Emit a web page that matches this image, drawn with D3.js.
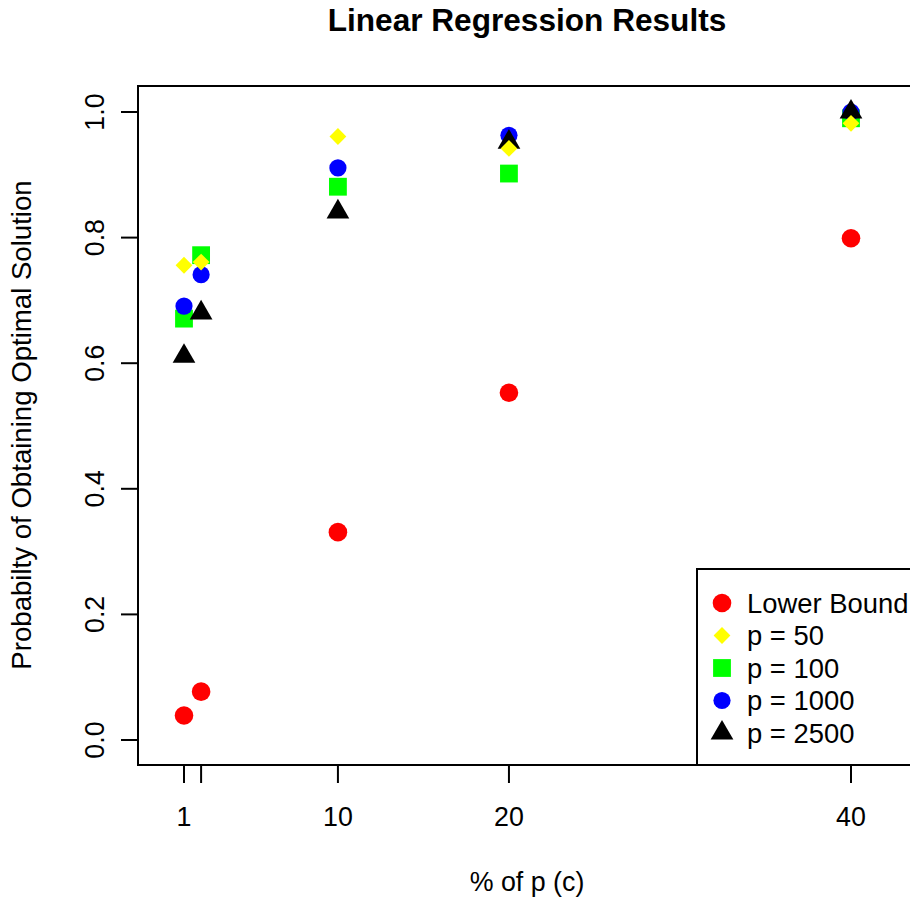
<!DOCTYPE html>
<html>
<head>
<meta charset="utf-8">
<script src="https://cdn.jsdelivr.net/npm/d3@7"></script>
<style>
body{margin:0;background:#fff;}
svg{display:block;font-family:"Liberation Sans",Arial,sans-serif;}
</style>
</head>
<body>
<div class="chart"></div>
<script>
// data
var xs=[1,2,10,20,40];
var xTicks=[1,2,10,20,40];
var xTickLabels=['1','','10','20','40'];
var yTicks=[0,0.2,0.4,0.6,0.8,1.0];
var lowerBound=[0.039,0.077,0.331,0.553,0.799];
var p50=[0.756,0.761,0.961,0.942,0.982];
var p100=[0.671,0.772,0.881,0.902,0.990];
var p1000=[0.691,0.741,0.911,0.963,1.0];
var p2500=[0.611,0.680,0.841,0.952,1.0];
var seriesNames=['Lower Bound','p = 50','p = 100','p = 1000','p = 2500'];

var width=910,height=898;
var box={left:138,top:86,right:916,bottom:765};
var fs='26.8px';

var svg=d3.select('div.chart')
		.append('svg')
		.attr('width',width)
		.attr('height',height);

var xScale=d3.scaleLinear().domain([1,40]).range([184,851]);
var yScale=d3.scaleLinear().domain([0,1]).range([740,112]);

// symbols, R style
function marker(sel,type){
	if(type=='circle'){
		sel.append('circle').attr('r',9.3).attr('fill','#ff0000');
	}else if(type=='circleb'){
		sel.append('circle').attr('r',8.6).attr('fill','#0000ff');
	}else if(type=='diamond'){
		sel.append('path').attr('d','M0,-8.4L8.4,0L0,8.4L-8.4,0Z').attr('fill','#ffff00');
	}else if(type=='square'){
		sel.append('rect').attr('x',-8.9).attr('y',-8.9).attr('width',17.8).attr('height',17.8).attr('fill','#00ff00');
	}else if(type=='triangle'){
		var r=13.1,xc=r*Math.sqrt(3)/2;
		sel.append('path').attr('d','M0,'+(-r)+'L'+xc+','+(r/2)+'L'+(-xc)+','+(r/2)+'Z').attr('fill','#000');
	}
}

var series=[
	{vals:lowerBound,type:'circle'},
	{vals:p100,type:'square'},
	{vals:p1000,type:'circleb'},
	{vals:p2500,type:'triangle'},
	{vals:p50,type:'diamond'}
];

var g=svg.append('g');
series.forEach(function(s){
	g.selectAll(null)
		.data(s.vals)
		.enter()
		.append('g')
		.attr('transform',function(d,i){return 'translate('+xScale(xs[i])+','+yScale(d)+')';})
		.each(function(){marker(d3.select(this),s.type);});
});

// plot box
svg.append('rect')
	.attr('x',box.left).attr('y',box.top)
	.attr('width',box.right-box.left).attr('height',box.bottom-box.top)
	.attr('fill','none').attr('stroke','#000').attr('stroke-width',2);

// x axis
var xAxis=svg.append('g');
xAxis.append('line')
	.attr('x1',xScale(xTicks[0])).attr('x2',xScale(xTicks[xTicks.length-1]))
	.attr('y1',box.bottom).attr('y2',box.bottom)
	.attr('stroke','#000').attr('stroke-width',2);
xAxis.selectAll('line.tick')
	.data(xTicks)
	.enter()
	.append('line')
	.attr('class','tick')
	.attr('x1',d=>xScale(d)).attr('x2',d=>xScale(d))
	.attr('y1',box.bottom).attr('y2',box.bottom+18)
	.attr('stroke','#000').attr('stroke-width',2);
xAxis.selectAll('text')
	.data(xTicks)
	.enter()
	.append('text')
	.attr('x',d=>xScale(d))
	.attr('y',826)
	.attr('text-anchor','middle')
	.attr('font-size',fs)
	.text((d,i)=>xTickLabels[i]);

// y axis
var yAxis=svg.append('g');
yAxis.append('line')
	.attr('x1',box.left).attr('x2',box.left)
	.attr('y1',yScale(0)).attr('y2',yScale(1))
	.attr('stroke','#000').attr('stroke-width',2);
yAxis.selectAll('line.tick')
	.data(yTicks)
	.enter()
	.append('line')
	.attr('class','tick')
	.attr('x1',box.left-17).attr('x2',box.left)
	.attr('y1',d=>yScale(d)).attr('y2',d=>yScale(d))
	.attr('stroke','#000').attr('stroke-width',2);
yAxis.selectAll('text')
	.data(yTicks)
	.enter()
	.append('text')
	.attr('transform',d=>'translate(104,'+yScale(d)+') rotate(-90)')
	.attr('text-anchor','middle')
	.attr('font-size',fs)
	.text(d=>d3.format('.1f')(d));

// titles
svg.append('text')
	.attr('x',527).attr('y',31)
	.attr('text-anchor','middle')
	.attr('font-size','31.6px')
	.attr('font-weight','bold')
	.text('Linear Regression Results');
svg.append('text')
	.attr('x',527).attr('y',891)
	.attr('text-anchor','middle')
	.attr('font-size',fs)
	.text('% of p (c)');
svg.append('text')
	.attr('transform','translate(31,425) rotate(-90)')
	.attr('text-anchor','middle')
	.attr('font-size','27.6px')
	.text('Probabilty of Obtaining Optimal Solution');

// legend
var legend=svg.append('g');
legend.append('rect')
	.attr('x',697).attr('y',569)
	.attr('width',box.right-697).attr('height',box.bottom-569)
	.attr('fill','#fff').attr('stroke','#000').attr('stroke-width',2);
var legTypes=['circle','diamond','square','circleb','triangle'];
var items=legend.selectAll('g.item')
	.data(seriesNames)
	.enter()
	.append('g')
	.attr('class','item')
	.attr('transform',(d,i)=>'translate(722,'+(603+i*32.5)+')');
items.each(function(d,i){marker(d3.select(this),legTypes[i]);});
items.append('text')
	.attr('x',25).attr('y',9.5)
	.attr('font-size','27.4px')
	.text(d=>d);
</script>
</body>
</html>
